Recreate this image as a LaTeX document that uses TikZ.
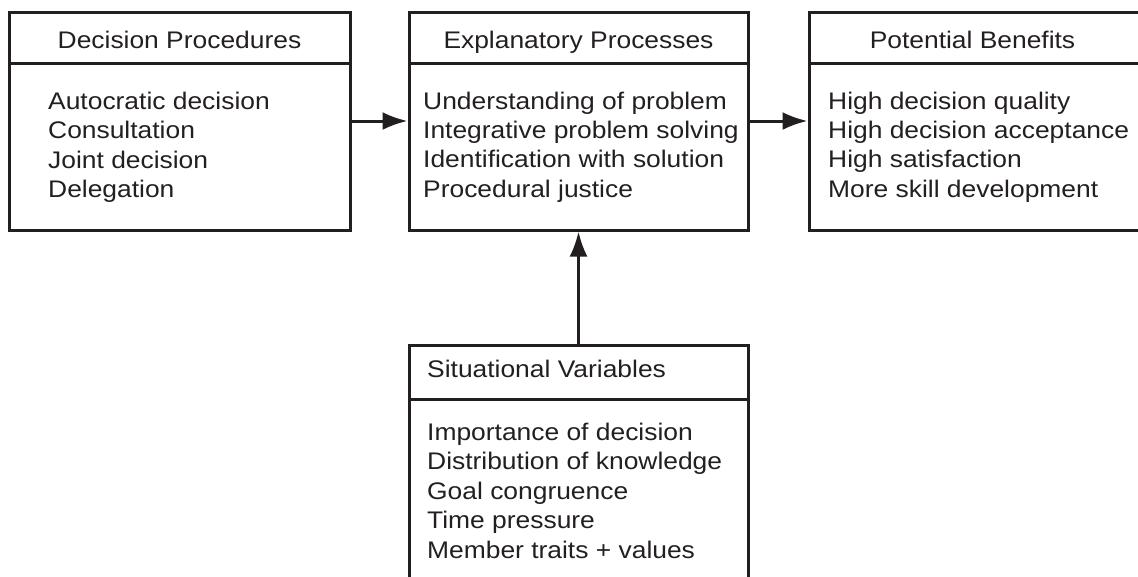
\documentclass[tikz,border=0pt]{standalone}
\usepackage{fontspec}
\setmainfont{Liberation Sans}[FakeStretch=1.1]
\usetikzlibrary{arrows.meta}
\definecolor{ink}{HTML}{231F20}
\tikzset{
  box/.style={draw=ink, line width=3pt, rectangle, inner sep=0pt},
  rule/.style={ink, line width=3pt},
  head/.style={text=ink, inner sep=0pt, anchor=base},
  item/.style={text=ink, inner sep=0pt, anchor=base west},
  link/.style={draw=ink, line width=3pt, -{Latex[length=25pt,width=18pt]}},
}
\begin{document}
\begin{tikzpicture}[x=1pt,y=-1pt,font=\fontsize{24}{29}\selectfont]
  \useasboundingbox (0,0) rectangle (1138,576);
  \clip (0,0) rectangle (1138,576);
  % boxes
  \node[box, minimum width=341pt, minimum height=218pt] (dp) at (179.5,121) {};
  \node[box, minimum width=339pt, minimum height=218pt] (ep) at (578.5,121) {};
  \node[box, minimum width=333pt, minimum height=218pt] (pb) at (975.5,121) {};
  \node[box, minimum width=339pt, minimum height=255pt] (sv) at (578.5,472.5) {};
  % header rules
  \draw[rule] (dp.west |- 0,63) -- (dp.east |- 0,63);
  \draw[rule] (ep.west |- 0,63) -- (ep.east |- 0,63);
  \draw[rule] (pb.west |- 0,63) -- (pb.east |- 0,63);
  \draw[rule] (sv.west |- 0,399) -- (sv.east |- 0,399);
  % headers
  \node[head] (dp-h) at (179.5,48) {Decision Procedures};
  \node[head] (ep-h) at (578.5,48) {Explanatory Processes};
  \node[head] (pb-h) at (972.5,48) {Potential Benefits};
  \node[head, anchor=base west] (sv-h) at (427,377) {Situational Variables};
  % items
  \foreach \t [count=\i] in {Autocratic decision, Consultation, Joint decision, Delegation}
    \node[item] (dp-\i) at (48,{109.5+29.3*(\i-1)}) {\t};
  \foreach \t [count=\i] in {Understanding of problem, Integrative problem solving,
      Identification with solution, Procedural justice}
    \node[item] (ep-\i) at (423,{109+29.4*(\i-1)}) {\t};
  \foreach \t [count=\i] in {High decision quality, High decision acceptance,
      High satisfaction, More skill development}
    \node[item] (pb-\i) at (828,{109+29.4*(\i-1)}) {\t};
  \foreach \t [count=\i] in {Importance of decision, Distribution of knowledge,
      Goal congruence, Time pressure, Member traits + values}
    \node[item] (sv-\i) at (427,{440+29.5*(\i-1)}) {\t};
  % arrows
  \begin{scope}[link]
    \draw (dp) to (ep);
    \draw (ep) to (pb);
    \draw (sv) to (ep);
  \end{scope}
\end{tikzpicture}
\end{document}
